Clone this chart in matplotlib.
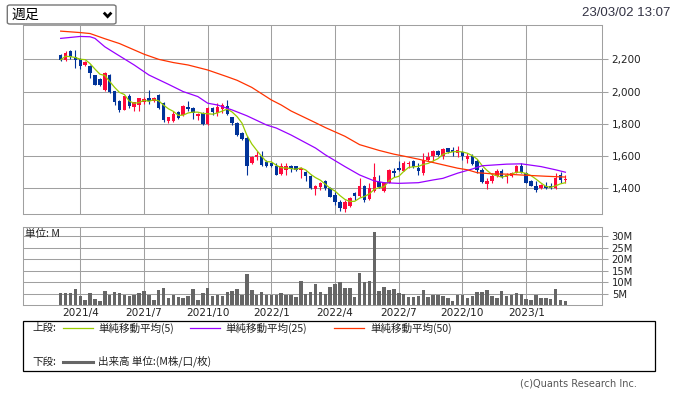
import matplotlib
matplotlib.use('Agg')
import matplotlib.pyplot as plt
import numpy as np
import pandas as pd
from matplotlib.lines import Line2D
from matplotlib.patches import Rectangle, FancyBboxPatch
from matplotlib.ticker import FuncFormatter

# ---------------- data (weekly) ----------------
opens = [2226, 2197, 2252, 2215, 2200, 2166, 2158, 2103, 2080, 2008,
         2105, 2004, 1944, 1888, 1972, 1902, 1918, 1935, 1962, 1939,
         1976, 1930, 1816, 1816, 1874, 1857, 1905, 1897, 1850, 1866,
         1800, 1900, 1866, 1891, 1911, 1840, 1808, 1742, 1715, 1557,
         1592, 1602, 1561, 1557, 1540, 1489, 1515, 1540, 1536, 1511,
         1499, 1478, 1395, 1410, 1446, 1400, 1358, 1317, 1269, 1290,
         1369, 1352, 1415, 1331, 1385, 1442, 1385, 1435, 1508, 1525,
         1508, 1552, 1567, 1525, 1498, 1573, 1602, 1629, 1602, 1650,
         1635, 1619, 1623, 1581, 1602, 1567, 1515, 1425, 1446, 1477,
         1510, 1473, 1477, 1498, 1540, 1494, 1446, 1417, 1400, 1417,
         1417, 1400, 1483, 1452]
highs = [2235, 2250, 2256, 2258, 2210, 2192, 2165, 2106, 2082, 2120,
         2108, 2006, 1948, 1975, 1984, 1936, 1962, 1969, 2010, 1966,
         1984, 1935, 1845, 1882, 1880, 1914, 1940, 1905, 1870, 1876,
         1907, 1907, 1927, 1927, 1948, 1845, 1812, 1752, 1726, 1598,
         1629, 1629, 1573, 1560, 1557, 1557, 1557, 1546, 1540, 1530,
         1505, 1484, 1421, 1442, 1452, 1410, 1379, 1327, 1327, 1348,
         1379, 1462, 1421, 1431, 1556, 1483, 1442, 1519, 1525, 1567,
         1567, 1567, 1577, 1556, 1619, 1625, 1640, 1640, 1650, 1652,
         1654, 1660, 1629, 1619, 1612, 1581, 1525, 1463, 1494, 1519,
         1519, 1494, 1504, 1546, 1556, 1504, 1452, 1446, 1427, 1442,
         1431, 1494, 1500, 1483]
lows = [2188, 2190, 2204, 2145, 2140, 2160, 2085, 2040, 2036, 2005,
        1990, 1918, 1874, 1886, 1898, 1878, 1877, 1922, 1925, 1936,
        1895, 1810, 1806, 1812, 1832, 1850, 1880, 1830, 1826, 1790,
        1795, 1852, 1851, 1870, 1855, 1790, 1726, 1700, 1480, 1553,
        1577, 1540, 1532, 1530, 1480, 1485, 1480, 1500, 1510, 1464,
        1443, 1398, 1358, 1390, 1390, 1344, 1296, 1260, 1254, 1285,
        1327, 1344, 1317, 1327, 1379, 1400, 1379, 1431, 1473, 1505,
        1505, 1525, 1529, 1483, 1483, 1567, 1567, 1602, 1579, 1619,
        1600, 1594, 1577, 1560, 1546, 1494, 1431, 1394, 1435, 1473,
        1462, 1435, 1469, 1494, 1494, 1431, 1413, 1379, 1394, 1394,
        1394, 1394, 1431, 1431]
closes = [2197, 2241, 2212, 2195, 2158, 2185, 2117, 2042, 2038, 2117,
          2000, 1934, 1886, 1972, 1912, 1933, 1958, 1955, 1940, 1962,
          1900, 1822, 1841, 1861, 1838, 1908, 1890, 1866, 1860, 1800,
          1897, 1876, 1907, 1917, 1860, 1805, 1733, 1707, 1540, 1592,
          1608, 1546, 1540, 1536, 1484, 1536, 1536, 1520, 1515, 1526,
          1474, 1403, 1415, 1435, 1400, 1348, 1317, 1275, 1317, 1337,
          1352, 1415, 1327, 1400, 1473, 1410, 1435, 1515, 1498, 1515,
          1560, 1560, 1535, 1510, 1577, 1592, 1633, 1608, 1644, 1623,
          1625, 1640, 1598, 1602, 1550, 1515, 1442, 1448, 1477, 1508,
          1473, 1483, 1498, 1540, 1504, 1435, 1417, 1390, 1421, 1400,
          1404, 1463, 1452, 1456]
volumes = [5.4, 5.4, 5.4, 7.2, 4.1, 2.3, 5.4, 2.9, 1.9, 6.2,
           4.6, 5.8, 5.4, 4.6, 4.1, 4.6, 5.4, 6.2, 4.6, 2.3,
           6.7, 7.5, 3.3, 4.6, 3.8, 3.3, 4.1, 7.1, 2.3, 5.4,
           7.5, 4.1, 4.6, 4.1, 5.8, 6.2, 7.1, 4.6, 13.6, 6.7,
           4.6, 5.8, 4.6, 4.3, 4.6, 5.4, 4.6, 4.6, 3.8, 10.6,
           4.9, 5.8, 9.3, 5.8, 4.9, 8.0, 9.3, 10.1, 7.5, 7.5,
           3.8, 14.1, 10.1, 10.6, 31.9, 6.2, 8.0, 6.7, 7.1, 5.4,
           4.9, 3.8, 3.8, 4.1, 6.7, 3.8, 4.6, 4.6, 4.1, 3.3,
           1.9, 4.6, 4.6, 3.3, 4.1, 5.8, 5.8, 6.7, 4.1, 3.3,
           6.2, 4.2, 4.6, 5.4, 4.9, 2.9, 2.3, 4.6, 3.3, 3.3,
           2.9, 7.1, 2.3, 1.9]

# moving averages 25 / 50 (week index, value)
ma25_idx = [0, 4, 6, 7, 9, 11, 15, 18, 22, 25, 28, 30, 32, 35, 38, 42, 44, 47,
            52, 54, 58, 61, 64, 66, 69, 73, 76, 78, 81, 84, 86, 91, 94, 98, 101, 103]
ma25_val = [2330, 2342, 2340, 2330, 2278, 2240, 2165, 2103, 2045, 2000, 1969, 1928,
            1917, 1886, 1850, 1793, 1774, 1731, 1650, 1608, 1535, 1483, 1446, 1435,
            1431, 1435, 1452, 1462, 1494, 1520, 1540, 1550, 1552, 1535, 1515, 1500]
ma50_idx = [0, 4, 6, 9, 12, 17, 20, 23, 26, 30, 34, 36, 39, 43, 45, 47, 52, 54,
            58, 61, 65, 68, 70, 73, 78, 81, 83, 85, 88, 91, 95, 99, 103]
ma50_val = [2375, 2366, 2360, 2328, 2298, 2232, 2200, 2180, 2165, 2134, 2092, 2070,
            2026, 1948, 1917, 1880, 1807, 1777, 1723, 1671, 1635, 1612, 1600, 1581,
            1546, 1525, 1515, 1497, 1490, 1488, 1481, 1475, 1470]

tick_idx = [4, 17, 30, 43, 56, 69, 82, 95]
tick_labels = ['2021/4', '2021/7', '2021/10', '2022/1', '2022/4', '2022/7', '2022/10', '2023/1']
price_ticks = [1400, 1600, 1800, 2000, 2200]
vol_ticks = [5, 10, 15, 20, 25, 30]

# ---------------- styling ----------------
UP = '#ff0a3c'
DOWN = '#003399'
GRID = '#a0a0a0'
CJK = ['Noto Sans CJK JP', 'DejaVu Sans']

W, H = 677, 405
fig = plt.figure(figsize=(W / 100, H / 100), dpi=100)
fig.patch.set_facecolor('white')

def fx(px):
    return px / W

def fy(py):
    return 1 - py / H

L, R = 23.3, 602.3
ax = fig.add_axes([fx(L), fy(214.3), fx(R) - fx(L), fy(25) - fy(214.3)])
axv = fig.add_axes([fx(L), fy(305.4), fx(R) - fx(L), fy(226.7) - fy(305.4)])

n = len(closes)
x = np.arange(n)
o = np.array(opens, float)
c = np.array(closes, float)
h = np.array(highs, float)
l = np.array(lows, float)
up = c >= o
cols = np.where(up, UP, DOWN)

xlim = (-7.63, 110.53)

# price panel
ax.set_axisbelow(True)
ax.vlines(x, l, h, colors=cols, lw=0.8, zorder=2)
body_bottom = np.minimum(o, c)
body_h = np.maximum(np.abs(c - o), 3)
ax.bar(x, body_h, bottom=body_bottom, width=0.7, color=cols, linewidth=0, zorder=3)

ma5 = pd.Series(c).rolling(5, min_periods=1).mean()
ax.plot(x, ma5, color='#99cc00', lw=0.9, zorder=4)
ax.plot(ma25_idx, ma25_val, color='#9900ff', lw=0.9, zorder=4)
ax.plot(ma50_idx, ma50_val, color='#ff3300', lw=0.9, zorder=4)

ax.set_xlim(*xlim)
ax.set_ylim(1239, 2413)
ax.set_xticks(tick_idx)
ax.set_yticks(price_ticks)
ax.yaxis.set_major_formatter(FuncFormatter(lambda v, p: f'{v:,.0f}'))
ax.yaxis.tick_right()
ax.tick_params(axis='x', length=0, labelbottom=False)
ax.tick_params(axis='y', length=4.3, width=0.75, color=GRID, pad=2.5,
               labelsize=7.5, labelcolor='#222222')
ax.grid(True, color=GRID, lw=0.75)
for s in ax.spines.values():
    s.set_color(GRID)
    s.set_linewidth(0.75)

# volume panel
axv.set_axisbelow(True)
axv.bar(x, volumes, width=0.7, color='#666666', linewidth=0)
axv.set_xlim(*xlim)
axv.set_ylim(0, 34)
axv.set_xticks(tick_idx)
axv.set_xticklabels(tick_labels)
axv.set_yticks(vol_ticks)
axv.set_yticklabels([f'{v}M' for v in vol_ticks])
axv.yaxis.tick_right()
axv.tick_params(axis='x', length=0, pad=2, labelsize=7.6, labelcolor='#222222')
axv.tick_params(axis='y', length=4.3, width=0.75, color=GRID, pad=2.5,
                labelsize=7.2, labelcolor='#222222')
axv.grid(True, color=GRID, lw=0.75)
for s in axv.spines.values():
    s.set_color(GRID)
    s.set_linewidth(0.75)

fig.text(fx(25), fy(233.5), '単位: M', ha='left', va='center', fontsize=7.6,
         family=CJK, color='#222222')

# legend box
fig.add_artist(Rectangle((fx(23.3), fy(371)), fx(655) - fx(23.3), fy(320.7) - fy(371),
                         transform=fig.transFigure, fill=False, ec='black', lw=0.9))
ly1, ly2 = 328.3, 361.7
fig.text(fx(32), fy(ly1), '上段:', ha='left', va='center', fontsize=7.6, family=CJK, color='#222222')
for (x0, x1, col, lab, tx) in [(62.5, 92.6, '#99cc00', '単純移動平均(5)', 98),
                               (189.6, 219.7, '#9900ff', '単純移動平均(25)', 225),
                               (334, 364, '#ff3300', '単純移動平均(50)', 370)]:
    fig.add_artist(Line2D([fx(x0), fx(x1)], [fy(ly1 - 0.6)] * 2, color=col, lw=0.9,
                          transform=fig.transFigure))
    fig.text(fx(tx), fy(ly1), lab, ha='left', va='center', fontsize=7.6, family=CJK, color='#222222')
fig.text(fx(32), fy(ly2), '下段:', ha='left', va='center', fontsize=7.6, family=CJK, color='#222222')
fig.add_artist(Line2D([fx(62.5), fx(92.6)], [fy(ly2)] * 2, color='#666666', lw=2.2,
                      transform=fig.transFigure))
fig.text(fx(98), fy(ly2), '出来高 単位:(M株/口/枚)', ha='left', va='center', fontsize=7.6,
         family=CJK, color='#222222')

fig.text(fx(637.3), fy(384), '(c)Quants Research Inc.', ha='right', va='center',
         fontsize=7, color='#555555')

# header: dropdown and timestamp
fig.add_artist(FancyBboxPatch((fx(7.3), fy(24)), fx(116) - fx(7.3), fy(5) - fy(24),
                              boxstyle='round,pad=0,rounding_size=0.004',
                              transform=fig.transFigure, ec='#767676', fc='white', lw=1))
fig.text(fx(11.7), fy(15), '週足', ha='left', va='center', fontsize=10, family=CJK, color='black')
fig.add_artist(Line2D([fx(103.8), fx(107.6), fx(111.4)], [fy(12.6), fy(16.6), fy(12.6)],
                      color='black', lw=2, transform=fig.transFigure,
                      solid_joinstyle='miter', solid_capstyle='butt'))
fig.text(fx(670), fy(13.3), '23/03/02 13:07', ha='right', va='center', fontsize=9.5,
         family=['Liberation Sans', 'DejaVu Sans'], color='#333344')

fig.savefig('out.png', dpi=100, facecolor='white')
